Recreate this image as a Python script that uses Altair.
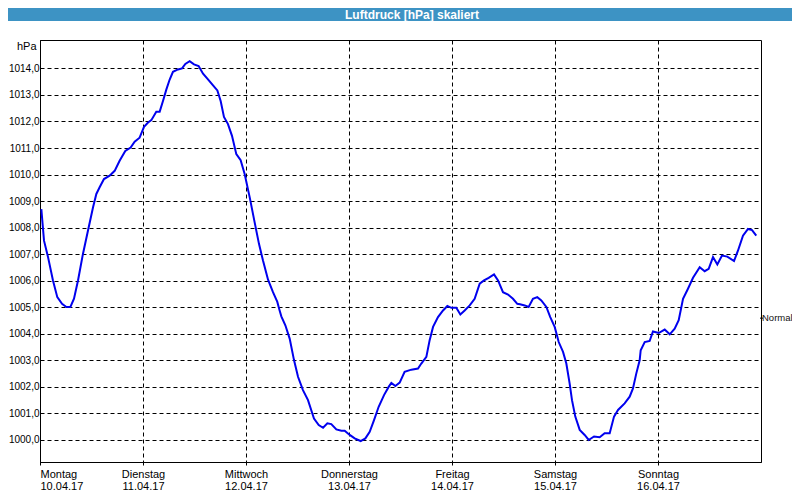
import altair as alt
import pandas as pd

# --- data ---
day_pos = [0.013, 0.039, 0.078, 0.126, 0.168, 0.214, 0.256, 0.295, 0.330, 0.369, 0.417, 0.466,
           0.515, 0.547, 0.579, 0.621, 0.676, 0.725, 0.773, 0.828, 0.880, 0.919, 0.967, 1.010,
           1.049, 1.081, 1.129, 1.162, 1.194, 1.227, 1.259, 1.291, 1.340, 1.379, 1.411, 1.453,
           1.495, 1.540, 1.583, 1.631, 1.680, 1.722, 1.754, 1.786, 1.825, 1.864, 1.906, 1.948,
           1.987, 2.036, 2.084, 2.126, 2.165, 2.214, 2.262, 2.304, 2.325, 2.343, 2.382, 2.424,
           2.466, 2.505, 2.553, 2.602, 2.660, 2.706, 2.748, 2.790, 2.828, 2.877, 2.926, 2.958,
           3.007, 3.055, 3.113, 3.159, 3.201, 3.243, 3.288, 3.340, 3.385, 3.411, 3.450, 3.492,
           3.540, 3.605, 3.670, 3.702, 3.751, 3.783, 3.816, 3.864, 3.913, 3.955, 3.994, 4.042,
           4.081, 4.123, 4.172, 4.220, 4.269, 4.311, 4.356, 4.408, 4.447, 4.495, 4.544, 4.592,
           4.634, 4.660, 4.706, 4.744, 4.786, 4.828, 4.867, 4.916, 4.954, 4.997, 5.036, 5.078,
           5.110, 5.142, 5.165, 5.197, 5.240, 5.288, 5.327, 5.379, 5.434, 5.482, 5.531, 5.573,
           5.612, 5.676, 5.725, 5.757, 5.789, 5.822, 5.832, 5.871, 5.919, 5.951, 6.007, 6.065,
           6.114, 6.162, 6.201, 6.243, 6.291, 6.340, 6.405, 6.453, 6.492, 6.534, 6.576, 6.621,
           6.673, 6.738, 6.777, 6.825, 6.874, 6.913, 6.954]
pressure = [1008.70, 1007.51, 1006.89, 1006.01, 1005.38, 1005.13, 1005.01, 1005.01, 1005.32, 1006.01,
            1007.01, 1007.89, 1008.77, 1009.27, 1009.52, 1009.83, 1009.96, 1010.14, 1010.52, 1010.89,
            1011.02, 1011.24, 1011.39, 1011.80, 1011.96, 1012.05, 1012.37, 1012.37, 1012.77, 1013.21,
            1013.58, 1013.87, 1013.96, 1014.00, 1014.17, 1014.27, 1014.15, 1014.09, 1013.80, 1013.59,
            1013.36, 1013.17, 1012.77, 1012.17, 1011.90, 1011.46, 1010.77, 1010.54, 1010.02, 1009.14,
            1008.20, 1007.39, 1006.76, 1006.04, 1005.57, 1005.20, 1004.90, 1004.66, 1004.32, 1003.82,
            1003.01, 1002.38, 1001.88, 1001.50, 1000.81, 1000.56, 1000.46, 1000.63, 1000.60, 1000.40,
            1000.35, 1000.35, 1000.19, 1000.06, 999.96, 1000.06, 1000.31, 1000.75, 1001.25, 1001.69,
            1002.00, 1002.15, 1002.03, 1002.16, 1002.57, 1002.65, 1002.69, 1002.88, 1003.13, 1003.76,
            1004.26, 1004.63, 1004.88, 1005.05, 1004.98, 1004.98, 1004.73, 1004.88, 1005.07, 1005.32,
            1005.89, 1006.01, 1006.11, 1006.24, 1006.01, 1005.57, 1005.48, 1005.32, 1005.13, 1005.11,
            1005.07, 1005.01, 1005.32, 1005.38, 1005.26, 1005.01, 1004.63, 1004.26, 1003.69, 1003.32,
            1002.88, 1002.13, 1001.50, 1000.88, 1000.38, 1000.19, 1000.00, 1000.13, 1000.10, 1000.25,
            1000.25, 1000.88, 1001.13, 1001.38, 1001.63, 1001.94, 1002.50, 1003.00, 1003.38, 1003.69,
            1003.73, 1004.09, 1004.03, 1004.16, 1003.98, 1004.19, 1004.51, 1005.32, 1005.70, 1006.11,
            1006.51, 1006.36, 1006.45, 1006.89, 1006.61, 1006.95, 1006.91, 1006.74, 1007.14, 1007.70,
            1007.95, 1007.91, 1007.70]

day_names = ["Montag", "Dienstag", "Mittwoch", "Donnerstag", "Freitag", "Samstag", "Sonntag"]
day_dates = ["10.04.17", "11.04.17", "12.04.17", "13.04.17", "14.04.17", "15.04.17", "16.04.17"]
y_ticks = list(range(1000, 1015))
normal_value = [1004.59]
title_text = "Luftdruck [hPa] skaliert"

FONT = "Tahoma, Liberation Sans, Arial, sans-serif"
BLUE = "#3d93c4"

df = pd.DataFrame({"t": day_pos, "p": pressure})

label_array = "[" + ",".join(
    "['%s','%s']" % (n, d) for n, d in zip(day_names, day_dates)) + "]"

x_scale = alt.Scale(domain=[0, 7], nice=False, zero=False)
y_scale = alt.Scale(domain=[999.17, 1015.07], nice=False, zero=False)

y_axis = alt.Axis(values=y_ticks, title="hPa", titleAngle=0, titleX=-4, titleY=6,
                  titleAlign="right", titleBaseline="middle",
                  titleFontWeight="normal", titleFontSize=11, titleFont=FONT,
                  titleColor="black",
                  labelExpr="replace(format(datum.value, '.1f'), '.', ',')",
                  labelFontSize=10, labelOverlap=False, labelBound=False,
                  grid=True, ticks=True, tickSize=0, labelPadding=1,
                  domainColor="black")

line = alt.Chart(df).mark_line(color="#0000ee", strokeWidth=2).encode(
    x=alt.X("t:Q", scale=x_scale,
            axis=alt.Axis(values=list(range(7)), title=None,
                          labelExpr=label_array + "[datum.value]",
                          grid=True, ticks=True, tickSize=3, tickColor="black",
                          labelPadding=3, labelLineHeight=12, labelBaseline="top",
                          labelFontSize=11, labelOverlap=False, domainColor="black")),
    y=alt.Y("p:Q", scale=y_scale, axis=y_axis),
)

ndf = pd.DataFrame({"p": normal_value, "label": ["Normal"]})
normal_tick = alt.Chart(ndf).mark_rule(color="black", strokeWidth=1).encode(
    y=alt.Y("p:Q", scale=y_scale, axis=y_axis), x=alt.value(720), x2=alt.value(723))
normal_text = alt.Chart(ndf).mark_text(align="left", baseline="middle", font=FONT,
                                       fontSize=9.5, color="#111").encode(
    y=alt.Y("p:Q", scale=y_scale, axis=y_axis), x=alt.value(722), text="label:N")

tdf = pd.DataFrame({"label": [title_text]})
title_bar = alt.Chart(tdf).mark_rect(color=BLUE).encode(
    x=alt.value(-32), x2=alt.value(752), y=alt.value(-32), y2=alt.value(-19))
title_lbl = alt.Chart(tdf).mark_text(align="center", baseline="middle", font=FONT,
                                     fontSize=12, fontWeight="bold", color="white").encode(
    x=alt.value(372), y=alt.value(-25), text="label:N")

chart = alt.layer(title_bar, title_lbl, line, normal_tick, normal_text).properties(
    width=721, height=422,
    autosize=alt.AutoSizeParams(type="none"),
    padding={"left": 32, "top": 32, "right": 31, "bottom": 30},
    background="white",
).configure_view(stroke="black", strokeWidth=1).configure_axis(
    labelFont=FONT, labelColor="black", labelOverlap=False,
    gridColor="black", gridDash=[4, 3], gridWidth=1, gridOpacity=1,
    domainWidth=1, domainOpacity=1,
)

chart.save("out.html", embed_options={"renderer": "svg", "actions": False})
